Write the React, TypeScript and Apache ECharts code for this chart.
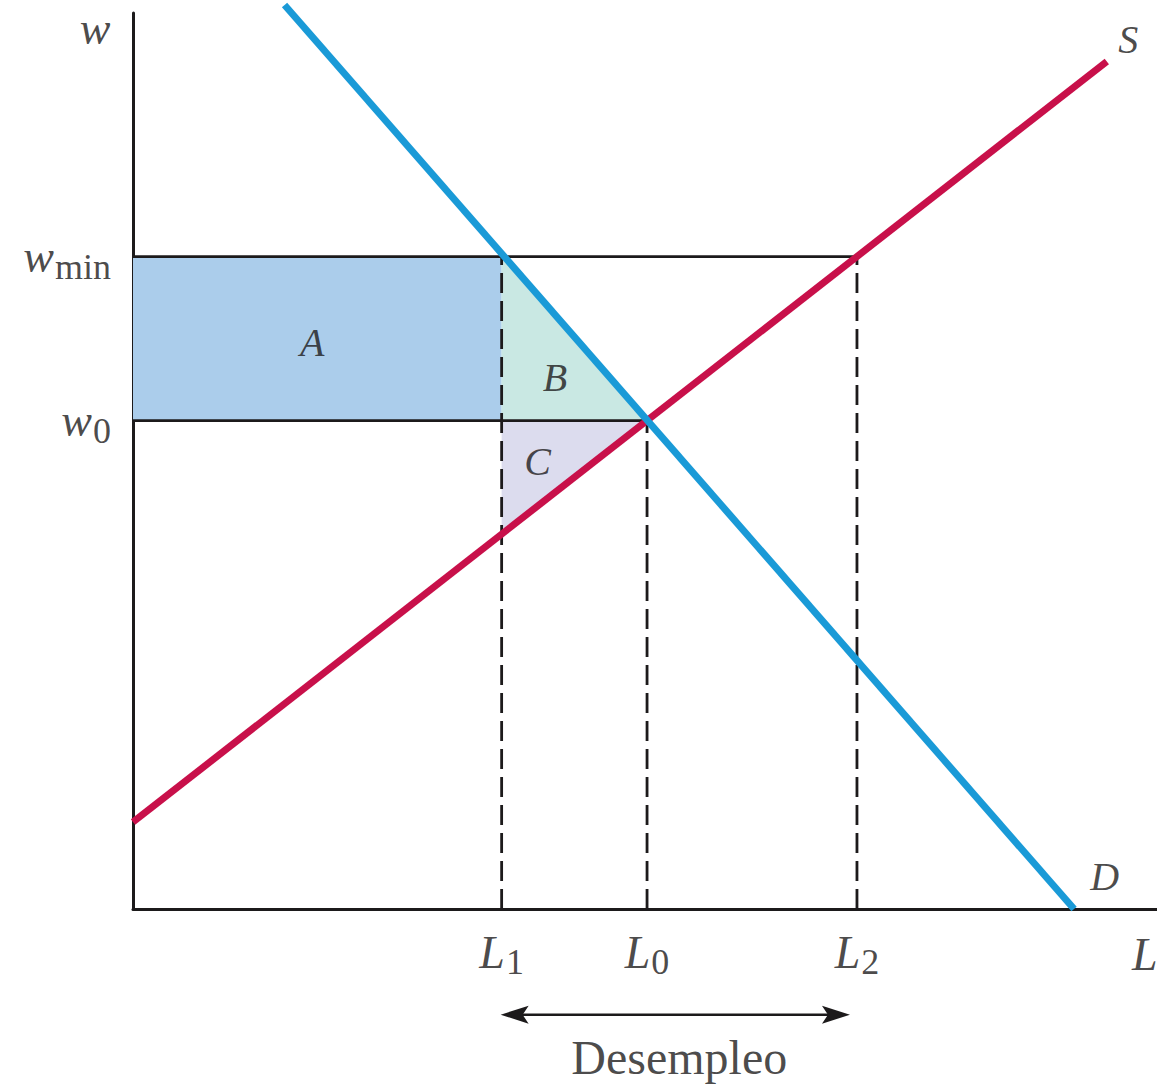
import { useEffect, useRef } from 'react';
import * as echarts from 'echarts';

const SERIF = "'Liberation Serif', 'DejaVu Serif', serif";
const INK = '#1c1a1b';

// Labour quantities marked under the L axis (subscript, value)
const quantityNames = ['1', '0', '2'];
const quantityValues = [36.0, 50.2, 70.7];

// Wages marked beside the w axis (subscript, value)
const wageNames = ['min', '0'];
const wageValues = [72.8, 54.5];

// Demand (D) and supply (S) curve endpoints as [L, w]
const demandL = [14.8, 91.9];
const demandW = [100.9, 0];
const supplyL = [0, 95.1];
const supplyW = [9.7, 94.6];

// Shaded surplus areas and where their letters sit
const areaNames = ['A', 'B', 'C'];
const areaColors = ['#abcdeb', '#c9e8e3', '#dcdcee'];
const areaLabelL = [17.5, 41.2, 39.5];
const areaLabelW = [63.2, 59.3, 49.9];

// Unemployment arrow level (below the axis)
const arrowW = -11.8;
const captionW = -16.6;

const lineAt = (xs: number[], ys: number[]) => (x: number) =>
  ys[0] + ((ys[1] - ys[0]) * (x - xs[0])) / (xs[1] - xs[0]);
const lineAtY = (xs: number[], ys: number[]) => (y: number) =>
  xs[0] + ((xs[1] - xs[0]) * (y - ys[0])) / (ys[1] - ys[0]);

export default function App() {
  const ref = useRef<HTMLDivElement>(null);

  useEffect(() => {
    if (!ref.current) return;
    const chart = echarts.init(ref.current, null, { renderer: 'svg' });

    const [L1, L0, L2] = quantityValues;
    const [wMin, w0] = wageValues;
    const supplyAt = lineAt(supplyL, supplyW);
    const demandX = lineAtY(demandL, demandW);

    const areas = [
      [[0, wMin], [L1, wMin], [L1, w0], [0, w0]],
      [[L1, wMin], [demandX(wMin), wMin], [L0, w0], [L1, w0]],
      [[L1, w0], [L0, w0], [L1, supplyAt(L1)]],
    ];

    const areaSeries = areas.map((pts, i) => ({
      type: 'custom',
      name: areaNames[i],
      clip: false,
      z: 1,
      data: [[0, 0]],
      renderItem: (_p: any, api: any) => ({
        type: 'polygon',
        shape: { points: pts.map((p) => api.coord(p)) },
        style: { fill: areaColors[i], stroke: null },
      }),
    }));

    const guide = (data: number[][], dashed: boolean) => ({
      type: 'line',
      data,
      symbol: 'none',
      clip: false,
      z: 3,
      silent: true,
      lineStyle: { color: INK, width: 2.8, type: dashed ? [20, 8] : 'solid' },
    });

    const italic = { fontFamily: SERIF, fontStyle: 'italic', fontSize: 46, color: INK };
    const sub = { fontFamily: SERIF, fontSize: 36, color: INK, padding: [20, 0, 0, 1] };

    const labelItems: any[] = [];
    quantityValues.forEach((q, i) => {
      labelItems.push({
        value: [q, 0],
        label: { show: true, position: 'inside', offset: [0, 43], formatter: `{i|L}{s|${quantityNames[i]}}`, rich: { i: italic, s: sub } },
      });
    });
    wageValues.forEach((w, i) => {
      labelItems.push({
        value: [0, w],
        label: { show: true, position: 'left', distance: 22, formatter: `{i|w}{s|${wageNames[i]}}`, rich: { i: italic, s: sub } },
      });
    });
    areaNames.forEach((n, i) => {
      labelItems.push({
        value: [areaLabelL[i], areaLabelW[i]],
        label: { show: true, position: 'inside', formatter: `{i|${n}}`, rich: { i: { ...italic, fontSize: 40 } } },
      });
    });
    const extraText: [number, number, string, number][] = [
      [-3.7, 98.3, 'w', 46],
      [98.8, -5.1, 'L', 46],
      [97.2, 97.0, 'S', 40],
      [94.9, 3.6, 'D', 40],
    ];
    extraText.forEach(([x, y, t, fs]) => {
      labelItems.push({
        value: [x, y],
        label: { show: true, position: 'inside', formatter: `{i|${t}}`, rich: { i: { ...italic, fontSize: fs } } },
      });
    });
    labelItems.push({
      value: [(L1 + L2) / 2, captionW],
      label: { show: true, position: 'inside', formatter: 'Desempleo', fontFamily: SERIF, fontSize: 48, color: INK },
    });

    chart.setOption({
      animation: false,
      grid: { left: 133, top: 13, width: 1024, height: 896, containLabel: false },
      xAxis: {
        type: 'value', min: 0, max: 100,
        axisLine: { show: true, onZero: false, lineStyle: { color: INK, width: 3 } },
        axisTick: { show: false }, axisLabel: { show: false }, splitLine: { show: false },
      },
      yAxis: {
        type: 'value', min: 0, max: 100,
        axisLine: { show: true, onZero: false, lineStyle: { color: INK, width: 3 } },
        axisTick: { show: false }, axisLabel: { show: false }, splitLine: { show: false },
      },
      series: [
        ...areaSeries,
        guide([[0, wMin], [L2, wMin]], false),
        guide([[0, w0], [L0, w0]], false),
        guide([[L1, 0], [L1, wMin]], true),
        guide([[L0, 0], [L0, w0]], true),
        guide([[L2, 0], [L2, wMin]], true),
        {
          type: 'line', name: 'S', symbol: 'none', clip: false, z: 4,
          data: supplyL.map((x, i) => [x, supplyW[i]]),
          lineStyle: { color: '#c8104a', width: 7 },
        },
        {
          type: 'line', name: 'D', symbol: 'none', clip: false, z: 5,
          data: demandL.map((x, i) => [x, demandW[i]]),
          lineStyle: { color: '#1a9ad7', width: 7 },
        },
        {
          type: 'custom', name: 'Desempleo', clip: false, z: 3,
          data: [[0, 0]],
          renderItem: (_p: any, api: any) => {
            const a = api.coord([L1, arrowW]);
            const b = api.coord([L2, arrowW]);
            const ax = a[0] - 1;
            const bx = b[0] - 7;
            const y = a[1];
            const head = (tip: number, dir: number) => ({
              type: 'polygon',
              shape: {
                points: [
                  [tip, y], [tip + dir * 28, y - 9], [tip + dir * 22, y], [tip + dir * 28, y + 9],
                ],
              },
              style: { fill: INK },
            });
            return {
              type: 'group',
              children: [
                { type: 'line', shape: { x1: ax + 10, y1: y, x2: bx - 10, y2: y }, style: { stroke: INK, lineWidth: 2.5 } },
                head(ax, 1),
                head(bx, -1),
              ],
            };
          },
        },
        {
          type: 'scatter', symbolSize: 0, clip: false, z: 6, silent: true,
          data: labelItems,
        },
      ],
    });

    return () => chart.dispose();
  }, []);

  return (
    <div
      ref={ref}
      style={{ position: 'absolute', left: 0, top: 0, width: 1157, height: 1088, background: '#fff' }}
    />
  );
}
